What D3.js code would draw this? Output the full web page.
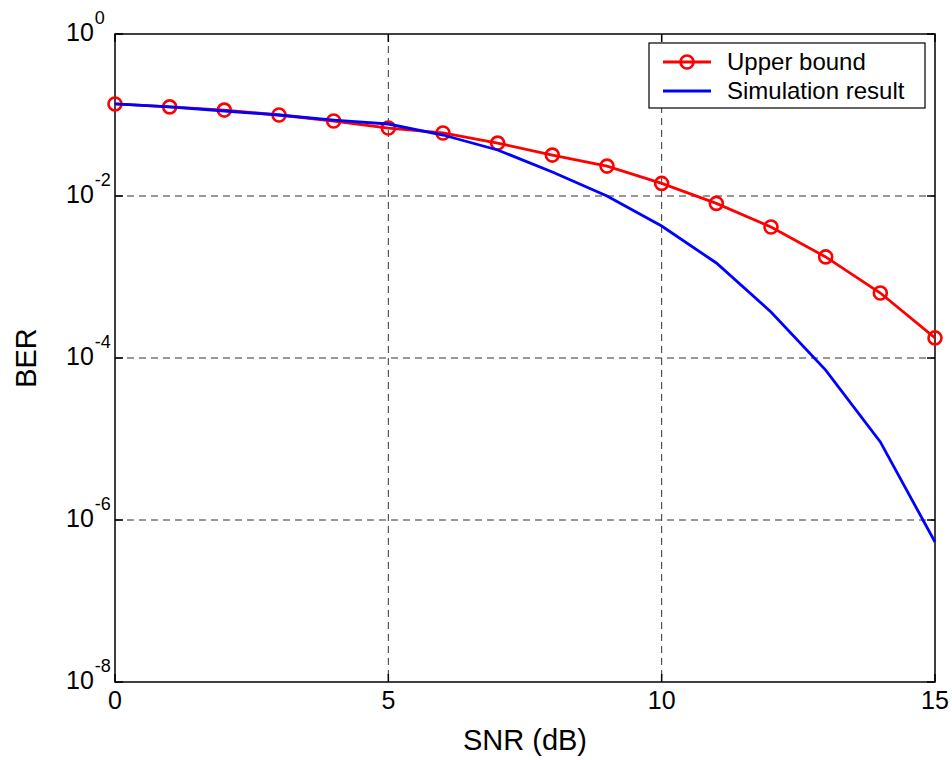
<!DOCTYPE html>
<html>
<head>
<meta charset="utf-8">
<script src="https://cdn.jsdelivr.net/npm/d3@7"></script>
<style>
  body { margin: 0; background: #fff; }
  text { font-family: "Liberation Sans", Arial, sans-serif; fill: #000; }
</style>
</head>
<body>
<svg id="chart" width="952" height="760"></svg>
<script>
// SNR in dB
const snr = [0, 1, 2, 3, 4, 5, 6, 7, 8, 9, 10, 11, 12, 13, 14, 15];
// BER values
const upperBound = [0.137, 0.126, 0.115, 0.1, 0.0843, 0.069, 0.06, 0.045, 0.032, 0.0234,
  0.0143, 0.0081, 0.00414, 0.00177, 0.000634, 0.000177];
const simulation = [0.137, 0.126, 0.112, 0.1, 0.0867, 0.0774, 0.0566, 0.037, 0.0198, 0.01,
  0.00426, 0.00149, 0.00037, 7.1e-5, 9.2e-6, 5.35e-7];
const xTicks = [0, 5, 10, 15];
const yExps = [0, -2, -4, -6, -8];
const legendLabels = ['Upper bound', 'Simulation result'];

const svg = d3.select('#chart');
const margin = { left: 115, right: 17, top: 34, bottom: 78 };
const W = 952, H = 760;
const x = d3.scaleLinear().domain([0, 15]).range([margin.left, W - margin.right]);
const y = d3.scaleLog().domain([1e-8, 1]).range([H - margin.bottom, margin.top]);
const [x0, x1] = x.range();
const [y0, y1] = y.range();

// grid
const grid = svg.append('g')
  .attr('stroke', '#333')
  .attr('stroke-width', 1)
  .attr('stroke-dasharray', '7,5');
grid.selectAll('.gx').data(xTicks.slice(1, -1)).join('line')
  .attr('x1', d => x(d)).attr('x2', d => x(d))
  .attr('y1', y1).attr('y2', y0);
grid.selectAll('.gy').data(yExps.slice(1, -1)).join('line')
  .attr('y1', d => y(Math.pow(10, d))).attr('y2', d => y(Math.pow(10, d)))
  .attr('x1', x0).attr('x2', x1);

// axes, ticks inward on all sides
const tickLen = 8;
const axes = svg.append('g').attr('stroke', '#000').attr('stroke-width', 1.5);
axes.append('rect')
  .attr('x', x0).attr('y', y1)
  .attr('width', x1 - x0).attr('height', y0 - y1)
  .attr('fill', 'none');
xTicks.forEach(t => {
  axes.append('line').attr('x1', x(t)).attr('x2', x(t)).attr('y1', y0).attr('y2', y0 - tickLen);
  axes.append('line').attr('x1', x(t)).attr('x2', x(t)).attr('y1', y1).attr('y2', y1 + tickLen);
});
yExps.forEach(e => {
  const yy = y(Math.pow(10, e));
  axes.append('line').attr('x1', x0).attr('x2', x0 + tickLen).attr('y1', yy).attr('y2', yy);
  axes.append('line').attr('x1', x1).attr('x2', x1 - tickLen).attr('y1', yy).attr('y2', yy);
});

// tick labels
svg.append('g').selectAll('text').data(xTicks).join('text')
  .attr('x', d => x(d))
  .attr('y', y0 + 27)
  .attr('text-anchor', 'middle')
  .attr('font-size', 25)
  .text(d => d);

const yl = svg.append('g').selectAll('text').data(yExps).join('text')
  .attr('x', x0 - 49)
  .attr('y', d => y(Math.pow(10, d)) + 7)
  .attr('font-size', 25);
yl.append('tspan').text('10');
yl.append('tspan')
  .attr('dy', -17)
  .attr('dx', 1)
  .attr('font-size', 18)
  .text(d => d);

// axis titles
svg.append('text')
  .attr('x', (x0 + x1) / 2)
  .attr('y', 750)
  .attr('text-anchor', 'middle')
  .attr('font-size', 29)
  .text('SNR (dB)');
svg.append('text')
  .attr('transform', `translate(36, ${(y0 + y1) / 2}) rotate(-90)`)
  .attr('text-anchor', 'middle')
  .attr('font-size', 29)
  .text('BER');

// series
const line = d3.line().x((d, i) => x(snr[i])).y(d => y(d));
svg.append('path').datum(upperBound)
  .attr('d', line)
  .attr('fill', 'none')
  .attr('stroke', '#ff0000')
  .attr('stroke-width', 2.8);
svg.append('g').selectAll('circle').data(upperBound).join('circle')
  .attr('cx', (d, i) => x(snr[i]))
  .attr('cy', d => y(d))
  .attr('r', 6.5)
  .attr('fill', 'none')
  .attr('stroke', '#ff0000')
  .attr('stroke-width', 2.6);
svg.append('path').datum(simulation)
  .attr('d', line)
  .attr('fill', 'none')
  .attr('stroke', '#0000ff')
  .attr('stroke-width', 2.8);

// legend
const lg = svg.append('g');
lg.append('rect')
  .attr('x', 649).attr('y', 43)
  .attr('width', 276).attr('height', 65)
  .attr('fill', '#fff')
  .attr('stroke', '#000')
  .attr('stroke-width', 1.2);
const legendColors = ['#ff0000', '#0000ff'];
legendLabels.forEach((lab, i) => {
  const ly = 62 + i * 29;
  lg.append('line')
    .attr('x1', 663).attr('x2', 711)
    .attr('y1', ly).attr('y2', ly)
    .attr('stroke', legendColors[i])
    .attr('stroke-width', 2.8);
  if (i === 0) {
    lg.append('circle')
      .attr('cx', 687).attr('cy', ly).attr('r', 6.5)
      .attr('fill', 'none')
      .attr('stroke', '#ff0000')
      .attr('stroke-width', 2.6);
  }
  lg.append('text')
    .attr('x', 727)
    .attr('y', ly + 8)
    .attr('font-size', 24)
    .text(lab);
});
</script>
</body>
</html>
